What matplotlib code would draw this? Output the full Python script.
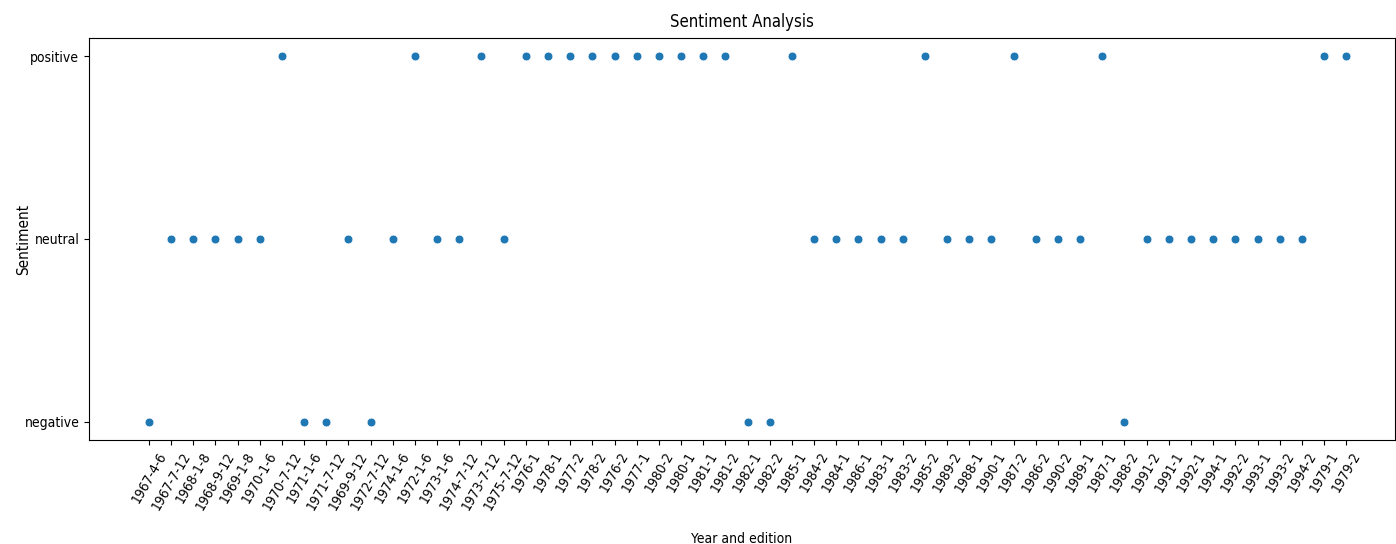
import matplotlib
matplotlib.use("Agg")
import matplotlib.pyplot as plt
import seaborn as sns
import pandas as pd

editions = ["1967-4-6", "1967-7-12", "1968-1-8", "1968-9-12", "1969-1-8", "1970-1-6",
            "1970-7-12", "1971-1-6", "1971-7-12", "1969-9-12", "1972-7-12", "1974-1-6",
            "1972-1-6", "1973-1-6", "1974-7-12", "1973-7-12", "1975-7-12", "1976-1",
            "1978-1", "1977-2", "1978-2", "1976-2", "1977-1", "1980-2", "1980-1",
            "1981-1", "1981-2", "1982-1", "1982-2", "1985-1", "1984-2", "1984-1",
            "1986-1", "1983-1", "1983-2", "1985-2", "1989-2", "1988-1", "1990-1",
            "1987-2", "1986-2", "1990-2", "1989-1", "1987-1", "1988-2", "1991-2",
            "1991-1", "1992-1", "1994-1", "1992-2", "1993-1", "1993-2", "1994-2",
            "1979-1", "1979-2"]

sentiment = ["negative", "neutral", "neutral", "neutral", "neutral", "neutral",
             "positive", "negative", "negative", "neutral", "negative", "neutral",
             "positive", "neutral", "neutral", "positive", "neutral", "positive",
             "positive", "positive", "positive", "positive", "positive", "positive", "positive",
             "positive", "positive", "negative", "negative", "positive", "neutral", "neutral",
             "neutral", "neutral", "neutral", "positive", "neutral", "neutral", "neutral",
             "positive", "neutral", "neutral", "neutral", "positive", "negative", "neutral",
             "neutral", "neutral", "neutral", "neutral", "neutral", "neutral", "neutral",
             "positive", "positive"]

plt.rcParams['font.stretch'] = 'condensed'

df = pd.DataFrame({"Year and edition": editions, "Sentiment": sentiment})

fig = plt.figure(figsize=(13.96, 5.44), dpi=100)
ax = fig.add_axes([89 / 1396, 1 - 440 / 544, (1395 - 89) / 1396, (440 - 38) / 544])

sns.scatterplot(data=df, x="Year and edition", y="Sentiment", ax=ax, s=40)

# negative at the bottom, positive on top
lo, hi = sorted(ax.get_ylim())
ax.set_ylim(lo, hi)

ax.set_xlim(-2.7, len(editions) - 1 + 2.2)
ax.set_title("Sentiment Analysis", pad=8)
ax.set_xlabel("Year and edition", labelpad=14)
ax.set_ylabel("Sentiment", fontsize=11)
ax.yaxis.set_label_coords(-58 / 1306, 0.5)
plt.xticks(rotation=60)

fig.savefig("out.png", dpi=100)
